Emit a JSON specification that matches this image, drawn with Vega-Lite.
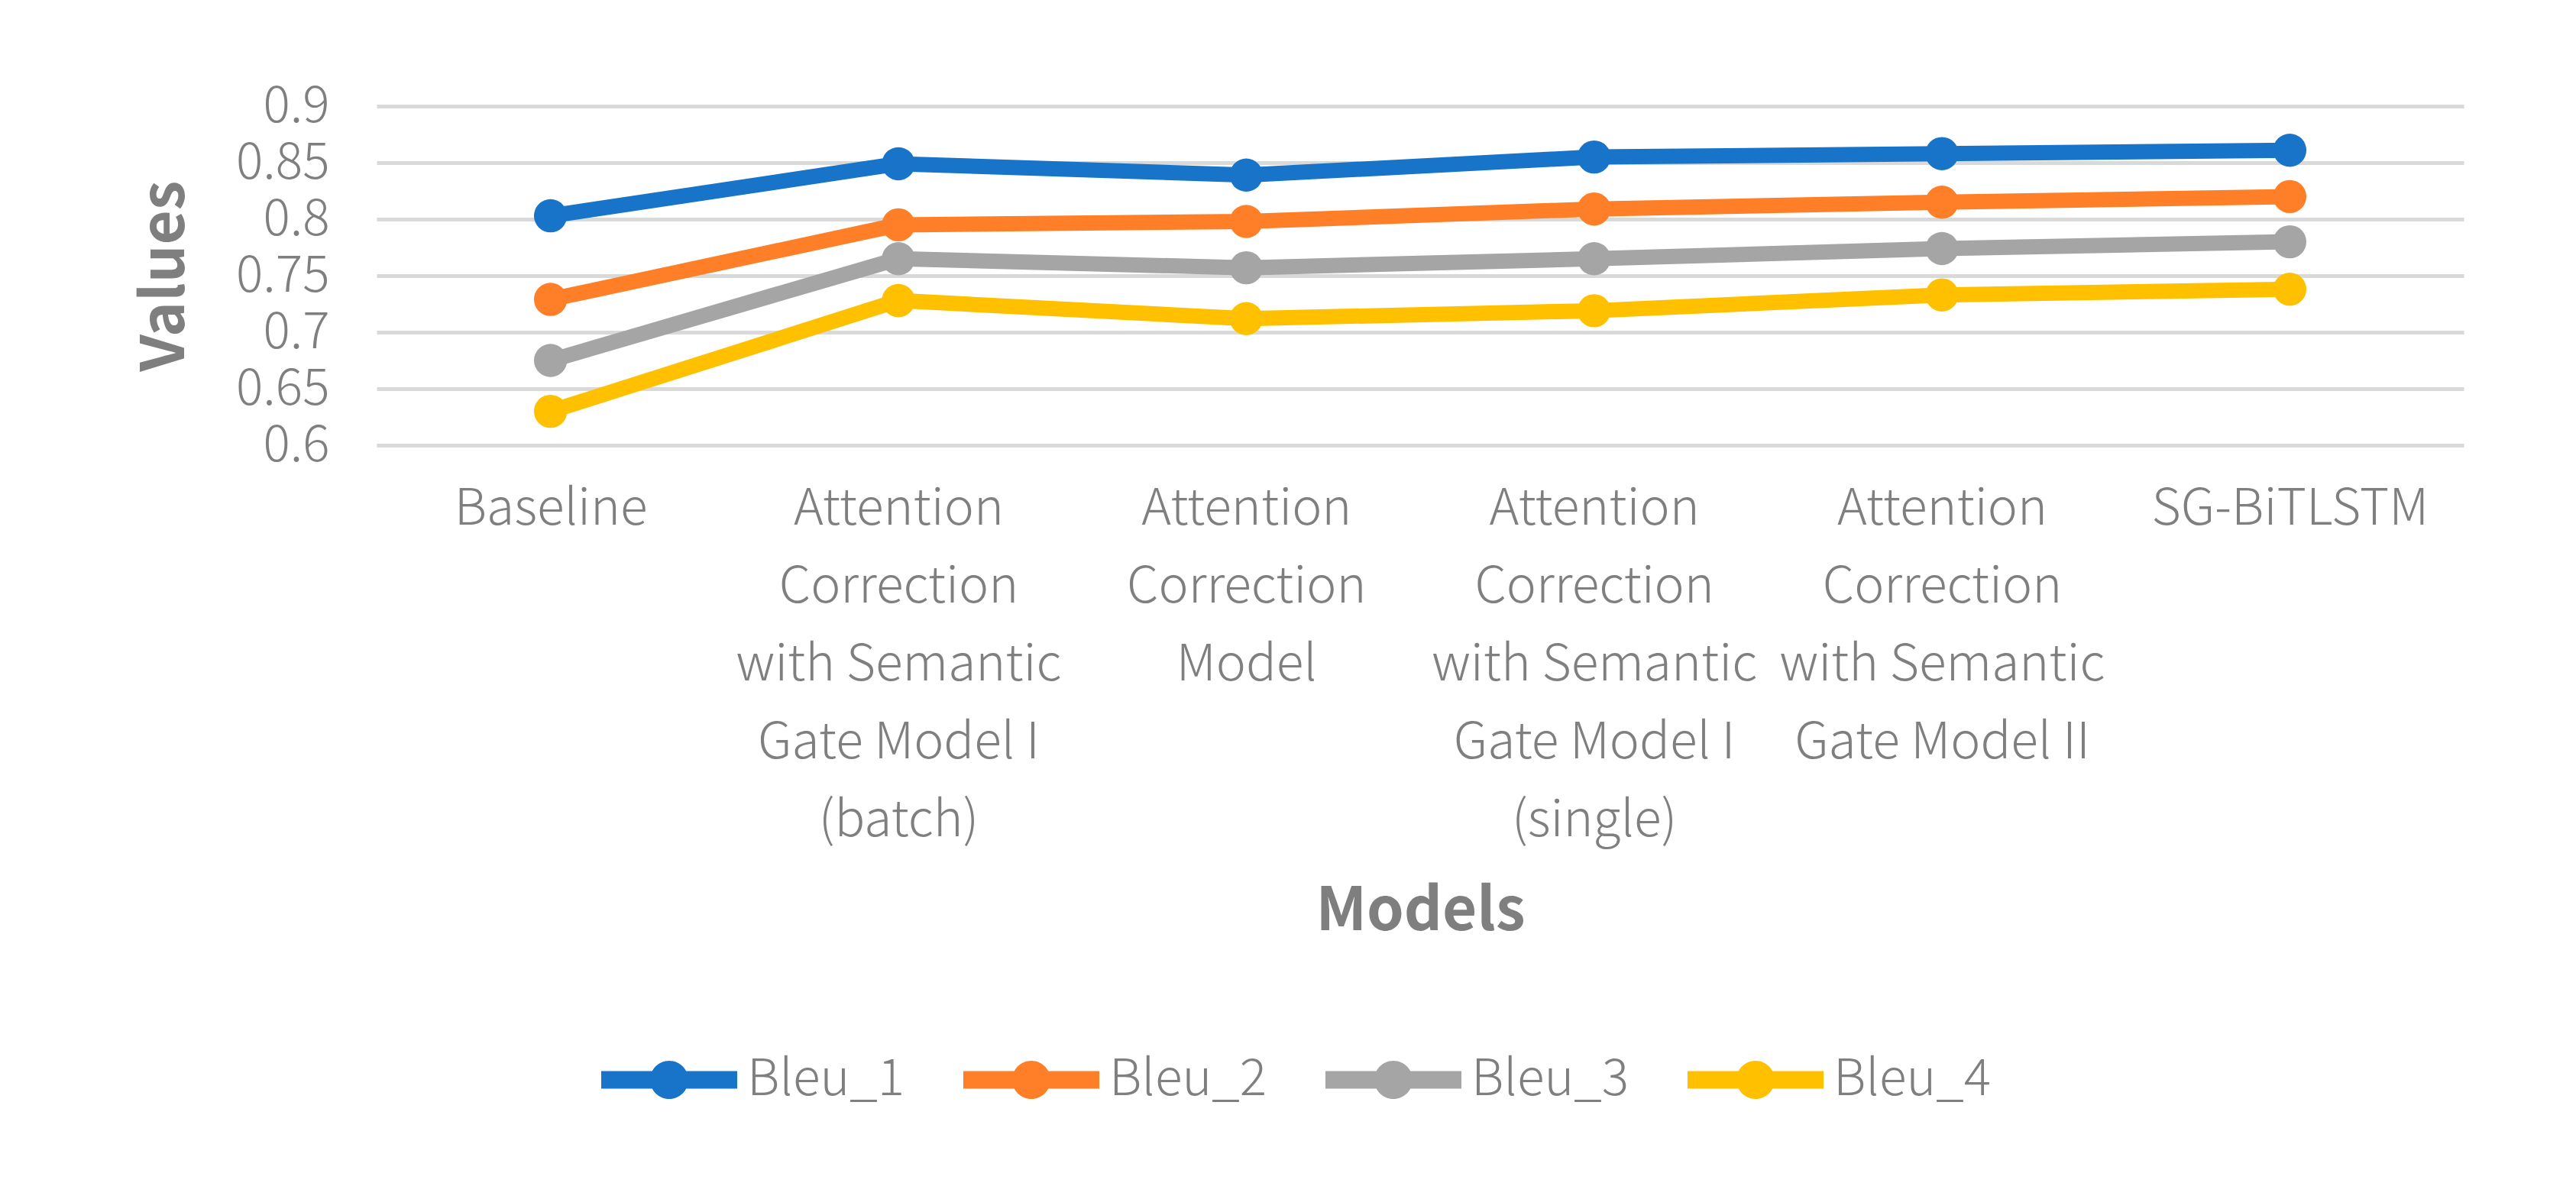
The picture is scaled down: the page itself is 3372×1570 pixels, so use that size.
{
  "$schema": "https://vega.github.io/schema/vega-lite/v6.json",
  "width": 2732,
  "height": 444,
  "autosize": {"type": "none"},
  "padding": {"left": 493, "top": 139, "right": 147, "bottom": 987},
  "background": "white",
  "config": {
    "font": "Noto Sans CJK SC",
    "view": {"stroke": null}
  },
  "data": {
    "values": [
      {"model": "Baseline", "metric": "Bleu_1", "value": 0.803},
      {"model": "Baseline", "metric": "Bleu_2", "value": 0.729},
      {"model": "Baseline", "metric": "Bleu_3", "value": 0.675},
      {"model": "Baseline", "metric": "Bleu_4", "value": 0.630},
      {"model": "Attention Correction with Semantic Gate Model I (batch)", "metric": "Bleu_1", "value": 0.849},
      {"model": "Attention Correction with Semantic Gate Model I (batch)", "metric": "Bleu_2", "value": 0.795},
      {"model": "Attention Correction with Semantic Gate Model I (batch)", "metric": "Bleu_3", "value": 0.765},
      {"model": "Attention Correction with Semantic Gate Model I (batch)", "metric": "Bleu_4", "value": 0.728},
      {"model": "Attention Correction Model", "metric": "Bleu_1", "value": 0.839},
      {"model": "Attention Correction Model", "metric": "Bleu_2", "value": 0.798},
      {"model": "Attention Correction Model", "metric": "Bleu_3", "value": 0.757},
      {"model": "Attention Correction Model", "metric": "Bleu_4", "value": 0.712},
      {"model": "Attention Correction with Semantic Gate Model I (single)", "metric": "Bleu_1", "value": 0.855},
      {"model": "Attention Correction with Semantic Gate Model I (single)", "metric": "Bleu_2", "value": 0.809},
      {"model": "Attention Correction with Semantic Gate Model I (single)", "metric": "Bleu_3", "value": 0.765},
      {"model": "Attention Correction with Semantic Gate Model I (single)", "metric": "Bleu_4", "value": 0.719},
      {"model": "Attention Correction with Semantic Gate Model II", "metric": "Bleu_1", "value": 0.858},
      {"model": "Attention Correction with Semantic Gate Model II", "metric": "Bleu_2", "value": 0.815},
      {"model": "Attention Correction with Semantic Gate Model II", "metric": "Bleu_3", "value": 0.774},
      {"model": "Attention Correction with Semantic Gate Model II", "metric": "Bleu_4", "value": 0.733},
      {"model": "SG-BiTLSTM", "metric": "Bleu_1", "value": 0.861},
      {"model": "SG-BiTLSTM", "metric": "Bleu_2", "value": 0.820},
      {"model": "SG-BiTLSTM", "metric": "Bleu_3", "value": 0.780},
      {"model": "SG-BiTLSTM", "metric": "Bleu_4", "value": 0.738}
    ]
  },
  "encoding": {
    "x": {
      "field": "model",
      "type": "nominal",
      "sort": null,
      "scale": {"type": "point", "padding": 0.5},
      "axis": {
        "title": "Models",
        "titleFontSize": 78,
        "titleFontWeight": "bold",
        "titleColor": "#7f7f7f",
        "titleBaseline": "alphabetic",
        "titleY": 634,
        "labelAngle": 0,
        "labelFontSize": 66,
        "labelFontWeight": 300,
        "labelColor": "#7f7f7f",
        "labelLineHeight": 102,
        "labelBaseline": "top",
        "labelPadding": 51,
        "labelLimit": 0,
        "labelOverlap": false,
        "labelBound": false,
        "ticks": false,
        "domain": false,
        "grid": false,
        "labelExpr": "datum.label == 'Attention Correction with Semantic Gate Model I (batch)' ? ['Attention','Correction','with Semantic','Gate Model I','(batch)'] : datum.label == 'Attention Correction Model' ? ['Attention','Correction','Model'] : datum.label == 'Attention Correction with Semantic Gate Model I (single)' ? ['Attention','Correction','with Semantic','Gate Model I','(single)'] : datum.label == 'Attention Correction with Semantic Gate Model II' ? ['Attention','Correction','with Semantic','Gate Model II'] : datum.label"
      }
    },
    "y": {
      "field": "value",
      "type": "quantitative",
      "scale": {"domain": [0.6, 0.9], "nice": false, "zero": false},
      "axis": {
        "title": "Values",
        "titleFontSize": 78,
        "titleFontWeight": "bold",
        "titleColor": "#7f7f7f",
        "titleX": -276,
        "titleBaseline": "middle",
        "values": [0.6, 0.65, 0.7, 0.75, 0.8, 0.85, 0.9],
        "format": ".2~f",
        "labelFontSize": 66,
        "labelFontWeight": 300,
        "labelColor": "#7f7f7f",
        "labelPadding": 62,
        "ticks": false,
        "domain": false,
        "grid": true,
        "gridColor": "#d9d9d9",
        "gridWidth": 5
      }
    },
    "color": {
      "field": "metric",
      "type": "nominal",
      "scale": {
        "domain": ["Bleu_1", "Bleu_2", "Bleu_3", "Bleu_4"],
        "range": ["#1874c8", "#fe7f27", "#a5a5a5", "#ffc000"]
      },
      "legend": {
        "title": null,
        "orient": "none",
        "direction": "horizontal",
        "columns": 4,
        "legendX": 294,
        "legendY": 1186,
        "symbolType": "M-1,-0.129L1,-0.129L1,0.129L-1,0.129Z M-0.281,0A0.281,0.281,0,1,1,0.281,0A0.281,0.281,0,1,1,-0.281,0Z",
        "symbolSize": 31684,
        "symbolStrokeWidth": 0,
        "symbolOpacity": 1,
        "labelFontSize": 66,
        "labelFontWeight": 300,
        "labelColor": "#7f7f7f",
        "labelOffset": 13,
        "labelLimit": 0,
        "columnPadding": 76,
        "encode": {
          "symbols": {
            "update": {
              "fill": {"scale": "color", "field": "value"},
              "stroke": {"value": "transparent"},
              "opacity": {"value": 1},
              "fillOpacity": {"value": 1}
            }
          }
        }
      }
    }
  },
  "layer": [
    {
      "mark": {"type": "line", "strokeWidth": 20, "strokeCap": "butt", "strokeJoin": "round"}
    },
    {
      "mark": {"type": "point", "filled": true, "opacity": 1, "size": 1886, "shape": "circle"}
    }
  ]
}
